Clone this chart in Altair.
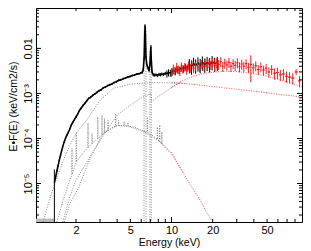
import altair as alt
import pandas as pd
import numpy as np

# ---------------- data ----------------
# black spectrum (low-energy detector)
bE = [1.39, 1.42, 1.45, 1.48, 1.51, 1.54, 1.57, 1.60, 1.64, 1.68,
      1.72, 1.76, 1.80, 1.85, 1.90, 1.95, 2.00, 2.06, 2.12, 2.18,
      2.25, 2.32, 2.40, 2.48, 2.56, 2.65, 2.75, 2.85, 2.95, 3.05,
      3.16, 3.28, 3.40, 3.53, 3.66, 3.80, 3.95, 4.10, 4.26, 4.43,
      4.60, 4.78, 4.97, 5.16, 5.36, 5.57, 5.78, 5.95, 6.10, 6.20,
      6.30, 6.36, 6.40, 6.44, 6.50, 6.58, 6.66, 6.75, 6.85, 6.95,
      7.02, 7.06, 7.10, 7.20, 7.35, 7.5, 7.7, 7.9, 8.1, 8.3,
      8.5, 8.75, 9.0, 9.25, 9.5, 9.8, 10.1, 10.4, 10.7, 11.0,
      11.4, 11.8, 12.2, 12.6, 13.0, 13.5, 14.0, 14.5, 15.0, 15.6,
      16.2, 16.8, 17.5, 18.2, 19.0, 19.8, 20.7, 21.6]
bF = [1.05e-5, 1.4e-5, 1.9e-5, 2.5e-5, 3.3e-5, 4.2e-5, 5.3e-5, 6.6e-5, 8.4e-5, 1.03e-4,
      1.2e-4, 1.38e-4, 1.6e-4, 2.0e-4, 2.3e-4, 2.65e-4, 3.0e-4, 3.5e-4, 4.2e-4, 4.7e-4,
      5.4e-4, 6.0e-4, 6.9e-4, 7.8e-4, 8.2e-4, 9.0e-4, 9.8e-4, 1.06e-3, 1.15e-3, 1.2e-3,
      1.33e-3, 1.38e-3, 1.48e-3, 1.55e-3, 1.62e-3, 1.74e-3, 1.82e-3, 1.95e-3, 2.0e-3, 2.12e-3,
      2.2e-3, 2.3e-3, 2.38e-3, 2.5e-3, 2.55e-3, 2.68e-3, 2.72e-3, 2.85e-3, 2.95e-3, 3.3e-3,
      6.0e-3, 1.8e-2, 3.2e-2, 2.0e-2, 6.5e-3, 4.5e-3, 4.0e-3, 3.6e-3, 3.2e-3, 4.5e-3,
      8.0e-3, 1.1e-2, 6.0e-3, 3.0e-3, 2.6e-3, 2.55e-3, 2.6e-3, 2.5e-3, 2.65e-3, 2.6e-3,
      2.7e-3, 2.65e-3, 2.8e-3, 2.75e-3, 2.9e-3, 2.85e-3, 3.0e-3, 3.2e-3, 3.1e-3, 3.4e-3,
      3.3e-3, 3.7e-3, 3.5e-3, 3.9e-3, 3.7e-3, 4.3e-3, 4.0e-3, 4.6e-3, 4.2e-3, 4.7e-3,
      4.3e-3, 4.9e-3, 4.4e-3, 4.8e-3, 4.5e-3, 5.0e-3, 4.6e-3, 4.8e-3]
bErr = [0.95,
        0.05, 0.05, 0.05, 0.05, 0.05, 0.05, 0.05, 0.05, 0.05, 0.05,
        0.05, 0.05, 0.05, 0.05, 0.05, 0.05, 0.05, 0.05, 0.05, 0.05,
        0.05, 0.05, 0.05, 0.05, 0.05, 0.05, 0.05, 0.05, 0.05, 0.05,
        0.05, 0.05, 0.05, 0.05, 0.05, 0.05, 0.05, 0.05, 0.05, 0.05,
        0.05, 0.05, 0.05, 0.05, 0.05, 0.05, 0.05,
        0.08, 0.08, 0.08, 0.08, 0.08, 0.08, 0.08, 0.08, 0.08, 0.08,
        0.08, 0.08, 0.08, 0.08, 0.08, 0.08, 0.08, 0.08, 0.08, 0.08,
        0.08, 0.08, 0.08, 0.08, 0.08,
        0.18, 0.18, 0.18, 0.18, 0.18, 0.18, 0.18, 0.18, 0.18, 0.18, 0.18, 0.18,
        0.35, 0.35, 0.35, 0.35, 0.35, 0.35, 0.35, 0.35, 0.35, 0.35, 0.35, 0.35, 0.35]

# red spectrum (hard detector)
rE = [10.0, 10.3, 10.6, 10.9, 11.2, 11.5, 11.8, 12.1, 12.5, 12.9,
      13.3, 13.7, 14.1, 14.5, 15.0, 15.5, 16.0, 16.5, 17.0, 17.6,
      18.2, 18.8, 19.4, 20.0, 20.7, 21.4, 22.1, 22.9, 23.7, 24.5,
      25.4, 26.3, 27.2, 28.2, 29.2, 30.3, 31.4, 32.6, 33.8, 35.1,
      36.5, 38.0, 39.6, 41.3, 43.1, 45.0, 47.0, 49.2, 51.5, 54.0,
      56.7, 59.5, 62.5, 65.8, 69.3, 73.0, 77.0, 81.5, 86.5]
rF = [3.0e-3, 3.6e-3, 3.2e-3, 3.9e-3, 3.4e-3, 3.1e-3, 4.0e-3, 3.5e-3, 3.9e-3, 3.3e-3,
      4.2e-3, 3.7e-3, 4.4e-3, 3.6e-3, 4.1e-3, 4.6e-3, 3.8e-3, 4.5e-3, 4.0e-3, 4.8e-3,
      4.1e-3, 4.7e-3, 4.3e-3, 5.0e-3, 4.2e-3, 4.8e-3, 4.4e-3, 5.1e-3, 4.0e-3, 4.7e-3,
      4.3e-3, 4.9e-3, 4.0e-3, 4.6e-3, 4.2e-3, 4.8e-3, 3.9e-3, 4.5e-3, 4.0e-3, 4.6e-3,
      3.8e-3, 4.4e-3, 3.7e-3, 4.1e-3, 3.4e-3, 3.9e-3, 3.3e-3, 3.6e-3, 3.0e-3, 3.4e-3,
      2.8e-3, 2.9e-3, 2.6e-3, 2.7e-3, 2.4e-3, 2.3e-3, 2.2e-3, 3.0e-3, 1.9e-3]
rErr = [0.22, 0.22, 0.22, 0.22, 0.22, 0.22, 0.22, 0.22, 0.22, 0.22,
        0.22, 0.22, 0.22, 0.22, 0.22, 0.22, 0.22, 0.22, 0.22, 0.22,
        0.22, 0.22, 0.22, 0.22,
        0.25, 0.25, 0.25, 0.25, 0.25, 0.25, 0.25, 0.25, 0.25, 0.25, 0.25, 0.25, 0.25, 0.25, 0.25, 0.25,
        0.25, 0.6, 0.25, 0.25, 0.25, 0.25, 0.25, 0.25, 0.25, 0.25,
        0.28, 0.28, 0.28, 0.28, 0.28, 0.28, 0.28, 0.15, 0.28]

# model components (dotted)
plE_k = [1.15, 1.25, 1.4, 1.6, 1.8, 2.0, 2.4, 3.0, 3.75, 5.0, 6.3, 8.0, 10.0, 12.0]
plF_k = [1.4e-6, 3.5e-6, 1e-5, 3e-5, 7e-5, 1.3e-4, 2.6e-4, 7e-4, 1.3e-3, 1.6e-3, 1.7e-3, 1.74e-3, 1.72e-3, 1.68e-3]
plE_r = [10, 12, 15, 20, 30, 40, 50, 60, 70, 80, 90]
plF_r = [1.72e-3, 1.68e-3, 1.57e-3, 1.42e-3, 1.24e-3, 1.12e-3, 1.03e-3, 0.96e-3, 0.91e-3, 0.87e-3, 0.83e-3]

rfE_k = [1.6, 1.8, 2.0, 2.4, 3.0, 4.0, 5.0, 6.0, 6.3, 7.10, 7.12, 8.0, 10.0, 12.0]
rfF_k = [1.4e-6, 5e-6, 1.2e-5, 3e-5, 9e-5, 3.3e-4, 5.5e-4, 8e-4, 8.5e-4, 1.0e-3, 6.5e-4, 8.5e-4, 1.35e-3, 1.9e-3]
rfE_r = [10, 12, 14.4, 17, 20, 25, 30, 40, 50, 60, 70, 80, 90]
rfF_r = [1.35e-3, 1.9e-3, 2.4e-3, 2.75e-3, 2.95e-3, 3.1e-3, 3.05e-3, 2.75e-3, 2.4e-3, 2.05e-3, 1.8e-3, 1.58e-3, 1.4e-3]

thE_k = [1.64, 1.8, 2.1, 2.5, 3.16, 4.0, 5.0, 6.3, 8.0, 9.6, 12.2]
thF_k = [1.4e-6, 3.5e-6, 8.3e-6, 3.3e-5, 1.3e-4, 1.97e-4, 1.8e-4, 1.4e-4, 9e-5, 5.5e-5, 1.7e-5]
thE_r = [10, 12.2, 14, 16.2, 18, 20, 21]
thF_r = [5e-5, 1.7e-5, 8.5e-6, 4.3e-6, 2.3e-6, 1.4e-6, 1.0e-6]

lnE = [1.45, 1.60, 1.80, 1.86, 1.87, 1.88, 2.00, 2.01, 2.02, 2.20,
       2.44, 2.45, 2.46, 2.61, 2.62, 2.63, 2.80, 2.88, 2.89, 2.90,
       3.09, 3.10, 3.11, 3.22, 3.23, 3.24, 3.42, 3.43, 3.44, 3.70,
       3.89, 3.90, 3.91, 4.09, 4.10, 4.11, 4.49, 4.50, 4.51, 4.79,
       4.80, 4.81, 5.4, 6.0, 6.67, 6.68, 6.69, 7.3, 7.87, 7.88,
       7.89, 8.19, 8.20, 8.21, 8.49, 8.50, 8.51, 9.0, 9.6]
lnF = [1.4e-6, 4e-6, 1.2e-5, 1.5e-5, 6e-5, 1.6e-5, 2.9e-5, 1.3e-4, 3.0e-5, 4.4e-5,
       6.2e-5, 2.2e-4, 6.3e-5, 7.5e-5, 1.3e-4, 7.6e-5, 9.5e-5, 1.0e-4, 3.0e-4, 1.0e-4,
       1.2e-4, 3.3e-4, 1.2e-4, 1.3e-4, 2.8e-4, 1.3e-4, 1.5e-4, 2.5e-4, 1.5e-4, 1.75e-4,
       1.85e-4, 3.6e-4, 1.85e-4, 1.92e-4, 2.5e-4, 1.92e-4, 1.95e-4, 2.4e-4, 1.95e-4, 1.92e-4,
       2.2e-4, 1.9e-4, 1.75e-4, 1.55e-4, 1.35e-4, 3.0e-4, 1.35e-4, 1.15e-4, 9.5e-5, 1.8e-4,
       9.5e-5, 8.5e-5, 2.0e-4, 8.5e-5, 7.5e-5, 1.4e-4, 7.5e-5, 6.2e-5, 5e-5]

gaE = [6.29, 6.30, 6.50, 6.51, 6.94, 6.95, 7.10, 7.11]
gaF = [1e-6, 0.028, 0.028, 1e-6, 1e-6, 0.0085, 0.0085, 1e-6]

floorE = [1.02, 1.38]
floorF = [1.5e-6, 1.5e-6]

x_major_ticks = [10]
x_minor_ticks = [2, 3, 4, 5, 6, 7, 8, 9, 20, 30, 40, 50, 60, 70, 80]
y_major_ticks = [1e-5, 1e-4, 1e-3, 1e-2]
y_minor_ticks = [m * d for d in [1e-6, 1e-5, 1e-4, 1e-3, 1e-2] for m in range(2, 10)]

# ---------------- chart ----------------
W, H = 266, 214
XDOM = [1.02, 90]
YDOM = [1.4e-6, 0.0787]
FONT = "Liberation Sans"

xaxis = alt.Axis(values=[2, 5, 10, 20, 50], format="d", ticks=False, domain=False, grid=False,
                 labelFontSize=11, labelPadding=2, labelFlush=False, labelOverlap=False,
                 title="Energy (keV)", titleFontSize=10.5, titlePadding=2)
yaxis = alt.Axis(values=[1e-5, 1e-4, 1e-3, 1e-2], ticks=False, domain=False, grid=False,
                 labelExpr="datum.value > 0.005 ? '0.01' : datum.value > 0.0005 ? '10⁻³' : datum.value > 0.00005 ? '10⁻⁴' : '10⁻⁵'",
                 labelAngle=270, labelAlign="center", labelBaseline="bottom", labelPadding=3,
                 labelFontSize=11, labelFlush=False, labelOverlap=False,
                 title="E•F(E) (keV/cm2/s)", titleFontSize=10.5, titleX=-23, titleY=98,
                 titleBaseline="middle", titleAlign="center", titleAngle=270)

xs = alt.Scale(type="log", domain=XDOM, nice=False)
ys = alt.Scale(type="log", domain=YDOM, nice=False)


def X(f="E"):
    return alt.X(f"{f}:Q", scale=xs, axis=xaxis)


def Y(f="F"):
    return alt.Y(f"{f}:Q", scale=ys, axis=yaxis)


def line_df(E, F):
    return pd.DataFrame({"E": E, "F": F})


GRAY = "#6a6a6a"
RED = "#ff1a1a"
dot = [1, 1.5]

layers = []


def model(E, F, color):
    return alt.Chart(line_df(E, F)).mark_line(clip=True, color=color, strokeWidth=0.8,
                                                strokeDash=dot).encode(x=X(), y=Y())


layers.append(alt.Chart(line_df(floorE, floorF)).mark_line(clip=True, color="#bbbbbb", strokeWidth=4)
              .encode(x=X(), y=Y()))
layers += [model(plE_k, plF_k, GRAY), model(rfE_k, rfF_k, GRAY), model(thE_k, thF_k, GRAY),
           model(lnE, lnF, GRAY), model(gaE, gaF, GRAY)]
layers += [model(plE_r, plF_r, RED), model(rfE_r, rfF_r, RED), model(thE_r, thF_r, RED)]

bdf = pd.DataFrame({"E": bE, "F": bF, "err": bErr})
bdf["lo"] = bdf["F"] * (1 - bdf["err"])
bdf["hi"] = bdf["F"] * (1 + bdf["err"])
layers.append(alt.Chart(bdf).mark_rule(clip=True, color="black", strokeWidth=1).encode(x=X(), y=Y("lo"), y2="hi"))
layers.append(alt.Chart(bdf).mark_line(clip=True, color="black", strokeWidth=1.6).encode(x=X(), y=Y()))

rdf = pd.DataFrame({"E": rE, "F": rF, "err": rErr})
rEa = np.array(rE)
edges = np.sqrt(rEa[1:] * rEa[:-1])
rdf["xlo"] = np.concatenate([[rEa[0] ** 1.5 / edges[0] ** 0.5], edges])
rdf["xhi"] = np.concatenate([edges, [rEa[-1] ** 1.5 / edges[-1] ** 0.5]])
rdf["lo"] = rdf["F"] * (1 - rdf["err"])
rdf["hi"] = rdf["F"] * (1 + rdf["err"])
layers.append(alt.Chart(rdf).mark_rule(clip=True, color=RED, strokeWidth=1).encode(x=X(), y=Y("lo"), y2="hi"))
layers.append(alt.Chart(rdf).mark_rule(clip=True, color=RED, strokeWidth=1.2).encode(x=X("xlo"), x2="xhi", y=Y()))

# inward ticks on all four sides
for vals, ln in [(x_major_ticks, 5), (x_minor_ticks, 3)]:
    tdf = pd.DataFrame({"E": vals})
    layers.append(alt.Chart(tdf).mark_rule(color="black", strokeWidth=1, clip=True)
                  .encode(x=X(), y=alt.value(H), y2=alt.value(H - ln)))
    layers.append(alt.Chart(tdf).mark_rule(color="black", strokeWidth=1, clip=True)
                  .encode(x=X(), y=alt.value(0), y2=alt.value(ln)))
for vals, ln in [(y_major_ticks, 5), (y_minor_ticks, 3)]:
    tdf = pd.DataFrame({"F": vals})
    layers.append(alt.Chart(tdf).mark_rule(color="black", strokeWidth=1, clip=True)
                  .encode(y=Y(), x=alt.value(0), x2=alt.value(ln)))
    layers.append(alt.Chart(tdf).mark_rule(color="black", strokeWidth=1, clip=True)
                  .encode(y=Y(), x=alt.value(W), x2=alt.value(W - ln)))

chart = alt.layer(*layers).properties(
    width=W, height=H,
    autosize=alt.AutoSizeParams(type="none"),
    padding={"left": 28, "top": 0, "right": 1, "bottom": 30},
).configure_view(stroke="black", strokeWidth=1).configure_axis(
    labelFont=FONT, titleFont=FONT, labelColor="black", titleColor="black", titleFontWeight="normal"
)

chart.save("out.html", embed_options={"renderer": "svg", "actions": False})
